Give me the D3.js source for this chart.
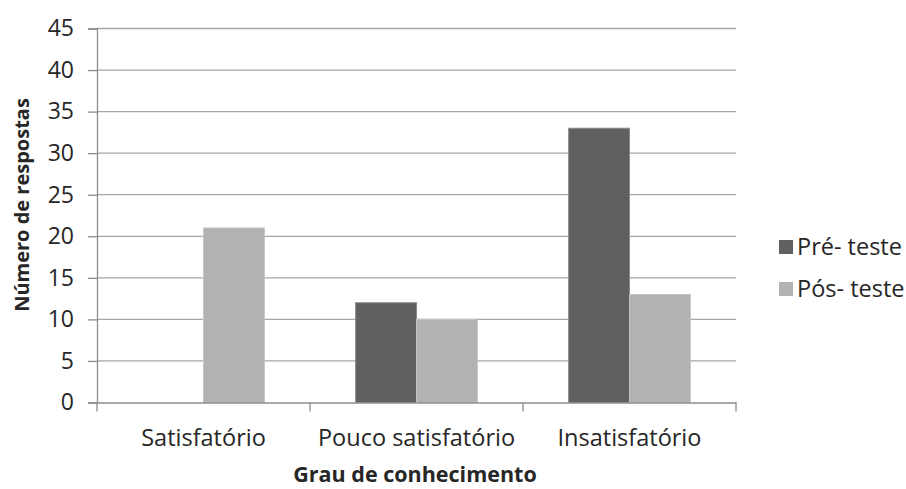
<!DOCTYPE html>
<html>
<head>
<meta charset="utf-8">
<script src="https://cdn.jsdelivr.net/npm/d3@7"></script>
<style>
  html, body { margin: 0; padding: 0; background: #fff; }
  svg { display: block; }
  text { font-family: "Open Sans", "Noto Sans", sans-serif; fill: #262626; }
</style>
</head>
<body>
<svg id="chart" width="906" height="489"></svg>
<script>
const categories = ["Satisfatório", "Pouco satisfatório", "Insatisfatório"];
const seriesNames = ["Pré- teste", "Pós- teste"];
const preTeste = [0, 12, 33];
const posTeste = [21, 10, 13];
const yTicks = [0, 5, 10, 15, 20, 25, 30, 35, 40, 45];
const colors = ["#606060", "#b2b2b2"];
const strokes = ["#8a8a8a", "#c4c4c4"];
const yTitle = "Número de respostas";
const xTitle = "Grau de conhecimento";

const series = [preTeste, posTeste];
const svg = d3.select("#chart");
const m = { left: 97, right: 736, top: 28.5, bottom: 402.5 };

const x = d3.scaleBand().domain(categories).range([m.left, m.right]).paddingInner(0).paddingOuter(0);
const xs = d3.scaleBand().domain(seriesNames).range([0, x.bandwidth()]).paddingInner(0).paddingOuter(0.75);
const y = d3.scaleLinear().domain([0, 45]).range([m.bottom, m.top]);

// gridlines
svg.append("g")
  .selectAll("line").data(yTicks.filter(d => d > 0)).join("line")
  .attr("x1", m.left).attr("x2", m.right)
  .attr("y1", d => y(d)).attr("y2", d => y(d))
  .attr("stroke", "#a6a6a6").attr("stroke-width", 1.3);

// bars
const rows = categories.map((c, i) => ({ c, vals: series.map((s, j) => ({ name: seriesNames[j], v: s[i], j })) }));
svg.append("g").selectAll("g").data(rows).join("g")
  .attr("transform", d => `translate(${x(d.c)},0)`)
  .selectAll("rect").data(d => d.vals.filter(v => v.v > 0)).join("rect")
  .attr("x", d => xs(d.name))
  .attr("width", xs.bandwidth())
  .attr("y", d => y(d.v))
  .attr("height", d => y(0) - y(d.v))
  .attr("fill", d => colors[d.j])
  .attr("stroke", d => strokes[d.j]).attr("stroke-width", 1);

// y axis
const yAxis = d3.axisLeft(y).tickValues(yTicks).tickSize(9).tickPadding(14).tickFormat(d3.format("d"));
const gy = svg.append("g").attr("transform", `translate(${m.left},0)`).call(yAxis);
gy.select(".domain").attr("stroke", "#8c8c8c").attr("stroke-width", 1.3);
gy.selectAll(".tick line").attr("stroke", "#8c8c8c").attr("stroke-width", 1.3);
gy.selectAll(".tick text").attr("font-size", 23).attr("fill", "#262626")
  .attr("font-family", "Open Sans, sans-serif");

// x axis
const xAxis = d3.axisBottom(x).tickSize(0).tickPadding(0);
const gx = svg.append("g").attr("transform", `translate(0,${m.bottom})`).call(xAxis);
gx.select(".domain").attr("stroke", "#8c8c8c").attr("stroke-width", 1.3);
gx.selectAll(".tick text").attr("font-size", 23.5).attr("fill", "#262626")
  .attr("font-family", "Open Sans, sans-serif").attr("dy", 0).attr("y", 43);
// category boundary ticks
const bounds = categories.map(c => x(c)).concat([m.right]);
gx.append("g").selectAll("line").data(bounds).join("line")
  .attr("x1", d => d).attr("x2", d => d).attr("y1", 0).attr("y2", 9)
  .attr("stroke", "#8c8c8c").attr("stroke-width", 1.3);

// axis titles
svg.append("text")
  .attr("transform", `translate(29,205) rotate(-90)`)
  .attr("text-anchor", "middle")
  .attr("font-size", 20).attr("font-weight", "bold").attr("fill", "#000")
  .text(yTitle);
svg.append("text")
  .attr("x", 415).attr("y", 482)
  .attr("text-anchor", "middle")
  .attr("font-size", 21.5).attr("font-weight", "bold").attr("fill", "#000")
  .text(xTitle);

// legend
const lg = svg.append("g").selectAll("g").data(seriesNames).join("g")
  .attr("transform", (d, i) => `translate(779,${247 + i * 42})`);
lg.append("rect").attr("x", 0).attr("y", -7).attr("width", 14).attr("height", 14)
  .attr("fill", (d, i) => colors[i]);
lg.append("text").attr("x", 18).attr("y", 0).attr("dy", "0.35em")
  .attr("font-size", 23.5).attr("fill", "#262626").text(d => d);
</script>
</body>
</html>
